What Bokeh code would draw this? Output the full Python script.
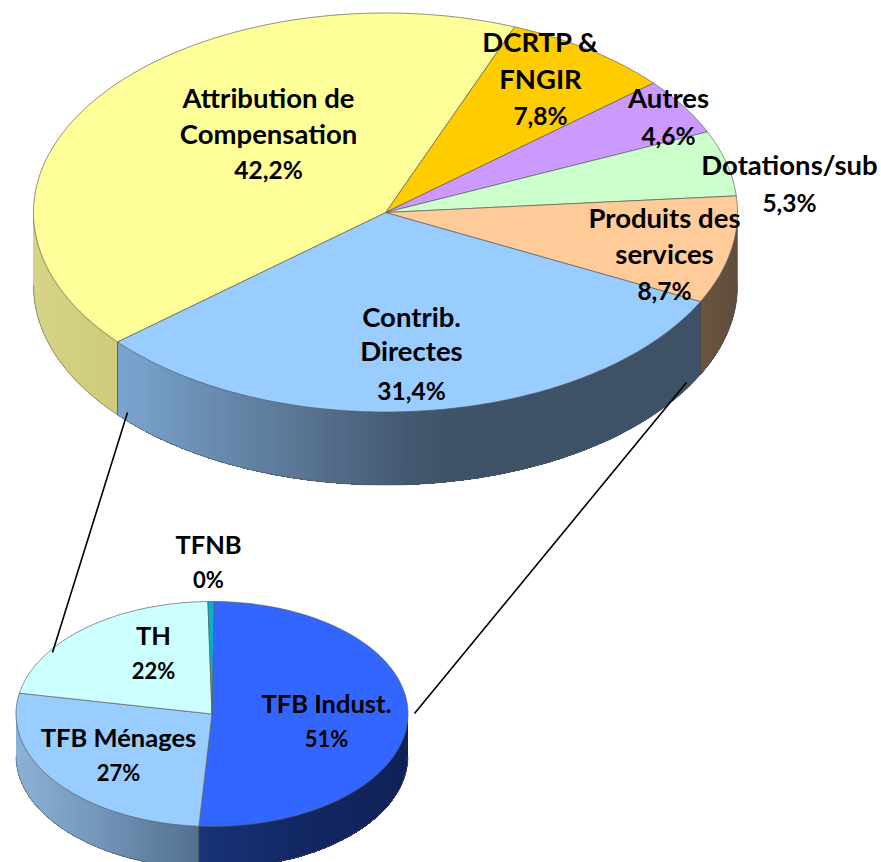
import numpy as np
from bokeh.plotting import figure
from bokeh.models import Range1d
from bokeh.core.properties import value
from bokeh.embed import file_html
from bokeh.resources import INLINE

# ---- data (clockwise order of the slices)
main_categories = ["DCRTP &\nFNGIR", "Autres", "Dotations/sub", "Produits des\nservices",
                   "Contrib.\nDirectes", "Attribution de\nCompensation"]
main_values = [7.8, 4.6, 5.3, 8.7, 31.4, 42.2]
main_value_labels = ["7,8%", "4,6%", "5,3%", "8,7%", "31,4%", "42,2%"]

sub_categories = ["TFB Indust.", "TFB Ménages", "TH", "TFNB"]
sub_values = [50.9, 26.9, 21.7, 0.5]
sub_value_labels = ["51%", "27%", "22%", "0%"]

# ---- styles and layout
W, H = 881, 862
FONT = "Lato"
main_colors = ["#FFCC00", "#CC99FF", "#CCFFCC", "#FFCC99", "#99CCFF", "#FFFF99"]
sub_colors = ["#3366FF", "#99CCFF", "#CCFFFF", "#00B4D0"]
main_geo = dict(cx=385, cy=212, rx=352, ry=199.5, depth=73, start=21.5)
sub_geo = dict(cx=211.5, cy=713.5, rx=196, ry=112.5, depth=42, start=0.6)

# side gradients: (x position, rgb) stops per slice index
main_sides = {
    3: [(698, (108, 86, 64)), (737, (96, 78, 60))],
    4: [(118, (123, 166, 208)), (200, (108, 143, 180)), (300, (90, 118, 148)),
        (400, (70, 91, 116)), (445, (63, 83, 105)), (698, (61, 81, 103))],
    5: [(33, (214, 212, 136)), (118, (206, 204, 122))],
}
sub_sides = {
    0: [(199, (26, 52, 120)), (300, (19, 40, 100)), (407, (16, 34, 88))],
    1: [(16, (140, 178, 215)), (100, (115, 150, 185)), (199, (84, 112, 142))],
}
main_label_pos = [(540, [42, 79], 116), (668, [98], 136), (789, [165], 203),
                  (664, [218, 254], 291), (411, [317, 351], 391), (268, [98, 134], 170)]
sub_label_pos = [(326, [704], 739), (118, [738], 773), (153, [636], 671), (208, [545], 580)]

p = figure(width=W, height=H, output_backend="svg", toolbar_location=None,
           x_range=Range1d(0, W), y_range=Range1d(H, 0),
           min_border=0, outline_line_color=None, background_fill_color="white",
           border_fill_color="white")
p.axis.visible = False
p.grid.visible = False


def boundaries(vals, start):
    return np.cumsum([0.0] + list(vals)) / sum(vals) * 360.0 + start


def draw_pie(vals, colors, sides, g):
    cx, cy, rx, ry, d = g["cx"], g["cy"], g["rx"], g["ry"], g["depth"]
    a = boundaries(vals, g["start"])
    px = lambda t: cx + rx * np.sin(np.radians(t))
    py = lambda t: cy - ry * np.cos(np.radians(t))
    # side wall: only the front half (90..270 degrees) is visible
    for i in range(len(vals)):
        lo, hi = max(a[i], 90.0), min(a[i + 1], 270.0)
        if hi <= lo or i not in sides:
            continue
        stops = sides[i]
        xs_stop = [s[0] for s in stops]
        n = max(3, int((hi - lo) / 1.2))
        ts = np.linspace(lo, hi, n + 1)
        sx, sy, fc = [], [], []
        # painter's order: every band runs to the far end of the wall, so no seams show
        for k in range(n):
            arc = ts[k:]
            sx.append(list(px(arc)) + list(px(arc[::-1])))
            sy.append(list(py(arc)) + list(py(arc[::-1]) + d))
            xm = 0.5 * (px(ts[k]) + px(ts[k + 1]))
            c = [int(np.interp(xm, xs_stop, [s[1][j] for s in stops])) for j in range(3)]
            fc.append("#%02x%02x%02x" % tuple(c))
        p.patches(sx, sy, fill_color=fc, line_color=None)
        tt = np.linspace(lo, hi, 120)
        p.line(px(tt), py(tt) + d, line_color="#555555", line_width=0.8, line_alpha=0.7)
        for edge in (a[i], a[i + 1]):
            if 90 < edge < 270:
                p.line([px(edge), px(edge)], [py(edge), py(edge) + d],
                       line_color="#444444", line_width=0.8, line_alpha=0.8)
    # top faces
    wx, wy = [], []
    for i in range(len(vals)):
        tt = np.linspace(a[i], a[i + 1], max(2, int(a[i + 1] - a[i]) * 2))
        wx.append([cx] + list(px(tt)))
        wy.append([cy] + list(py(tt)))
    p.patches(wx, wy, fill_color=colors, line_color="#5a5a5a", line_width=0.9, line_alpha=0.75)


draw_pie(main_values, main_colors, main_sides, main_geo)
draw_pie(sub_values, sub_colors, sub_sides, sub_geo)

# connector lines of the pie-of-pie
p.line([127, 52], [412, 652], line_color="black", line_width=1.6)
p.line([686, 414], [382, 713], line_color="black", line_width=1.6)


def draw_labels(cats, pcts, pos, name_size, pct_size):
    for sizes, rows in ((name_size, [(x, y, line) for cat, (x, ys, _) in zip(cats, pos)
                                     for line, y in zip(cat.split("\n"), ys)]),
                        (pct_size, [(x, yp, pct) for pct, (x, _, yp) in zip(pcts, pos)])):
        p.text([r[0] for r in rows], [r[1] for r in rows], text=[r[2] for r in rows],
               text_font=value(FONT), text_font_size=sizes, text_font_style="bold",
               text_color="black", text_align="center", text_baseline="middle", y_offset=-1.5)


draw_labels(main_categories, main_value_labels, main_label_pos, "27.5px", "24.5px")
draw_labels(sub_categories, sub_value_labels, sub_label_pos, "25.5px", "22px")

open("out.html", "w").write(file_html(p, INLINE))
